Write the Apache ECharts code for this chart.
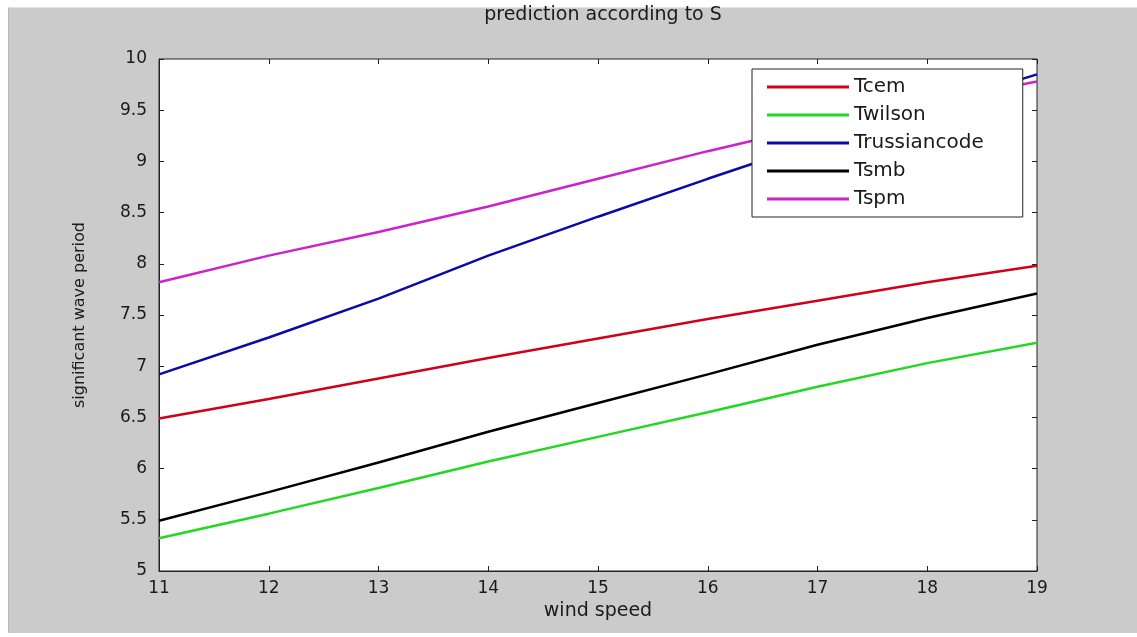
<!DOCTYPE html>
<html>
<head>
<meta charset="utf-8">
<title>prediction according to S</title>
<script src="https://cdn.jsdelivr.net/npm/echarts@6/dist/echarts.min.js"></script>
<style>
  html, body { margin: 0; padding: 0; background: #fff; }
  #frame {
    position: absolute; left: 8px; top: 7px; width: 1129px; height: 626px;
    background: #cbcbcb; border-top: 1px solid #e2e2e2; border-left: 1px solid #b8b8b8;
    box-sizing: border-box;
  }
  #chart { position: absolute; left: 0; top: 0; width: 1137px; height: 637px; }
</style>
</head>
<body>
<div id="frame"></div>
<div id="chart"></div>
<script>
// wind speed (x) and predicted significant wave period per method
const windSpeed = [11, 12, 13, 14, 15, 16, 17, 18, 19]
const tcem = [6.49, 6.68, 6.88, 7.08, 7.27, 7.46, 7.64, 7.82, 7.98]
const twilson = [5.32, 5.56, 5.81, 6.07, 6.31, 6.55, 6.80, 7.03, 7.23]
const trussiancode = [6.92, 7.28, 7.66, 8.08, 8.46, 8.83, 9.19, 9.52, 9.85]
const tsmb = [5.49, 5.77, 6.06, 6.36, 6.64, 6.92, 7.21, 7.47, 7.71]
const tspm = [7.82, 8.08, 8.31, 8.56, 8.83, 9.10, 9.35, 9.57, 9.78]

const seriesNames = ['Tcem', 'Twilson', 'Trussiancode', 'Tsmb', 'Tspm']
const seriesValues = [tcem, twilson, trussiancode, tsmb, tspm]
const seriesColors = ['#d0001a', '#22d822', '#0a0aa8', '#000000', '#cc22cc']

const font = 'DejaVu Sans'
const chart = echarts.init(document.getElementById('chart'))

const hiddenAxis = {
  axisLabel: { show: false },
  axisLine: { show: false },
  splitLine: { show: false },
  axisTick: { inside: true, length: 5, lineStyle: { color: '#222' } }
}

const option = {
  backgroundColor: 'transparent',
  animation: false,
  title: {
    text: 'prediction according to S',
    left: 598,
    textAlign: 'center',
    top: 1,
    textStyle: { fontFamily: font, fontSize: 19, fontWeight: 'normal', color: '#1a1a1a' }
  },
  legend: {
    orient: 'vertical',
    left: 752,
    top: 69,
    padding: [8, 39, 8, 15],
    itemGap: 8,
    itemWidth: 82,
    itemHeight: 3,
    icon: 'rect',
    backgroundColor: '#fff',
    borderColor: '#222',
    borderWidth: 1,
    borderRadius: 0,
    textStyle: { fontFamily: font, fontSize: 20, color: '#1a1a1a', lineHeight: 20 },
    data: seriesNames
  },
  grid: {
    left: 159, top: 59, width: 878, height: 512,
    show: true, backgroundColor: '#fff', borderColor: '#222', borderWidth: 1
  },
  xAxis: [
    {
      type: 'value', min: 11, max: 19, interval: 1,
      name: 'wind speed', nameLocation: 'middle', nameGap: 31,
      nameTextStyle: { fontFamily: font, fontSize: 19, color: '#1a1a1a' },
      axisLine: { lineStyle: { color: '#222' } },
      axisTick: { inside: true, length: 5, lineStyle: { color: '#222' } },
      axisLabel: { fontFamily: font, fontSize: 17, color: '#1a1a1a', margin: 9 },
      splitLine: { show: false }
    },
    Object.assign({ type: 'value', min: 11, max: 19, interval: 1, position: 'top' }, hiddenAxis)
  ],
  yAxis: [
    {
      type: 'value', min: 5, max: 10, interval: 0.5,
      name: 'significant wave period', nameLocation: 'middle', nameGap: 71,
      nameTextStyle: { fontFamily: font, fontSize: 16, color: '#1a1a1a' },
      axisLine: { lineStyle: { color: '#222' } },
      axisTick: { inside: true, length: 5, lineStyle: { color: '#222' } },
      axisLabel: { fontFamily: font, fontSize: 17, color: '#1a1a1a', margin: 12 },
      splitLine: { show: false }
    },
    Object.assign({ type: 'value', min: 5, max: 10, interval: 0.5, position: 'right' }, hiddenAxis)
  ],
  series: seriesNames.map((name, i) => ({
    name: name,
    type: 'line',
    symbol: 'none',
    data: windSpeed.map((x, j) => [x, seriesValues[i][j]]),
    lineStyle: { color: seriesColors[i], width: 2.5 },
    itemStyle: { color: seriesColors[i] }
  }))
}

chart.setOption(option)
</script>
</body>
</html>
